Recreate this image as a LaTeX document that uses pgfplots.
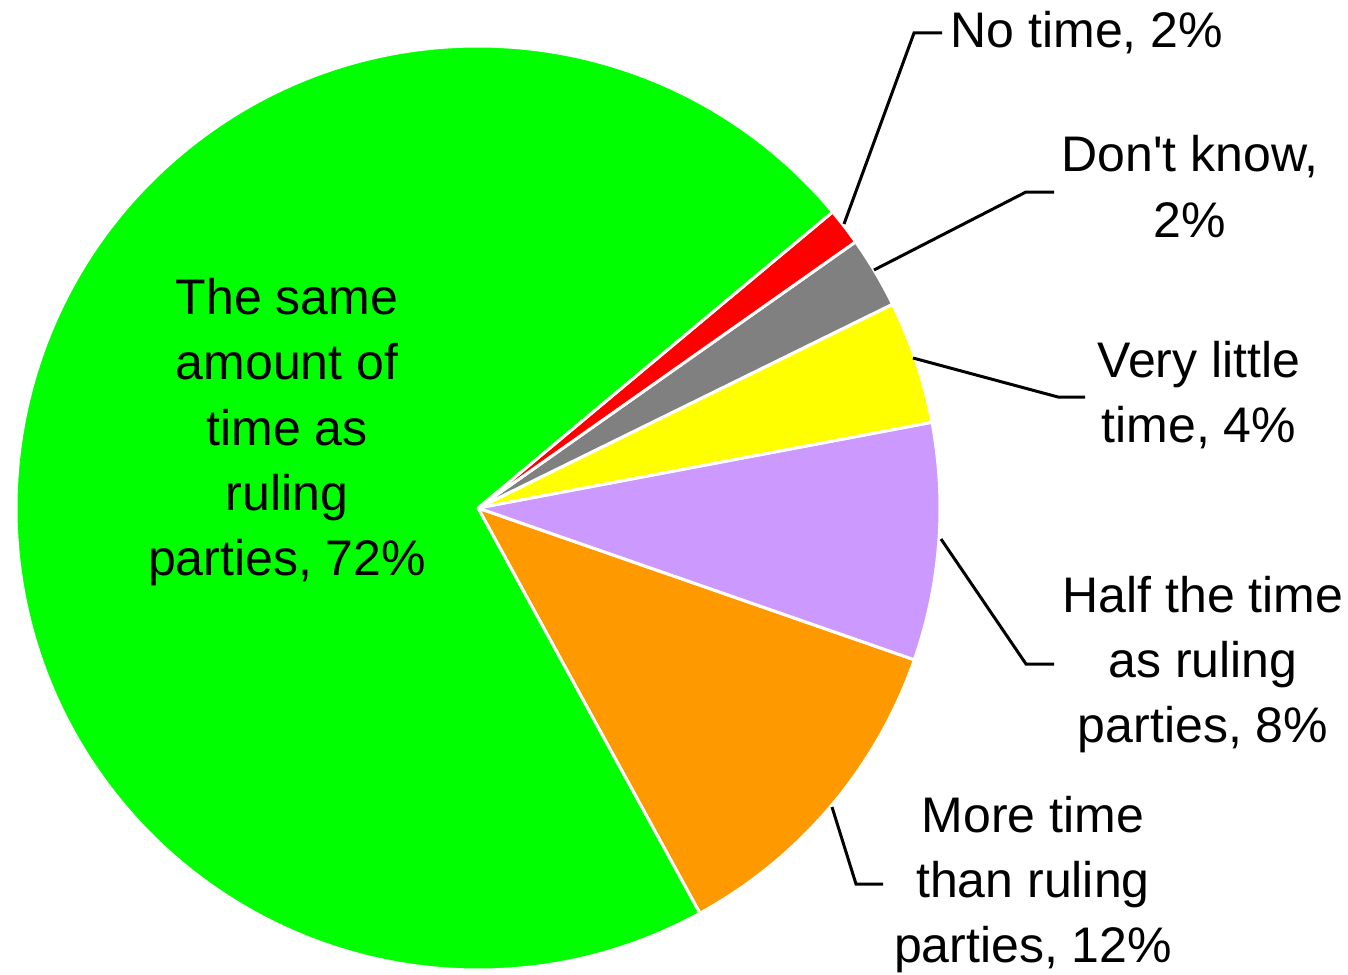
\documentclass[border=0pt]{standalone}
\usepackage{pgfplots}
\pgfplotsset{compat=1.18}
\usepackage{pgfplotstable}
\usepackage{fontspec}
\setmainfont{Liberation Sans}

\definecolor{greenS}{HTML}{00FF00}
\definecolor{redS}{HTML}{FF0000}
\definecolor{grayS}{HTML}{808080}
\definecolor{yellowS}{HTML}{FFFF00}
\definecolor{purpleS}{HTML}{CC99FF}
\definecolor{orangeS}{HTML}{FF9900}

% slices counter-clockwise, starting at -61.3 deg
\pgfplotstableread{
value color
11.7  orangeS
8.3   purpleS
4.3   yellowS
2.5   grayS
1.3   redS
71.9  greenS
}\piedata

\begin{document}
\begin{tikzpicture}[
    lbl/.style={font=\fontsize{15pt}{19.8pt}\selectfont, inner sep=0pt, anchor=base},
    lead/.style={black, line width=0.9pt},
]
\begin{axis}[
    width=404.4pt, height=292.2pt,
    scale only axis,
    xmin=0, xmax=1348, ymin=0, ymax=974,
    y dir=reverse,
    hide axis,
    clip=false,
]
\coordinate (bbA) at (rel axis cs:0,0);
\coordinate (bbB) at (rel axis cs:1,1);

\pgfplotsextra{%
    \pgfplotstablegetrowsof{\piedata}%
    \pgfmathtruncatemacro\nmax{\pgfplotsretval-1}%
    \def\angstart{-61.3}%
    \pgfplotsforeachungrouped \i in {0,...,\nmax}{%
        \pgfplotstablegetelem{\i}{value}\of\piedata \let\v\pgfplotsretval
        \pgfplotstablegetelem{\i}{color}\of\piedata \let\c\pgfplotsretval
        \pgfmathsetmacro\angend{\angstart+3.6*\v}%
        \fill[\c, draw=white, line width=0.9pt, line join=round]
            (axis cs:478,508) -- ++(\angstart:138.6pt)
            arc[start angle=\angstart, end angle=\angend, radius=138.6pt] -- cycle;%
        \let\angstart\angend
    }%
}

% leader lines
\draw[lead] (axis cs:844,224) -- (axis cs:914,33) -- (axis cs:942,33);
\draw[lead] (axis cs:874,270) -- (axis cs:1026,192) -- (axis cs:1054,192);
\draw[lead] (axis cs:913,358) -- (axis cs:1058,397) -- (axis cs:1085,397);
\draw[lead] (axis cs:941,539) -- (axis cs:1026,664) -- (axis cs:1054,664);
\draw[lead] (axis cs:832,807) -- (axis cs:856,884) -- (axis cs:883,884);

% labels
\node[lbl, anchor=base west] at (axis cs:950,48) {No time, 2\%};

\node[lbl] at (axis cs:1190,172) {Don\textquotesingle t know,};
\node[lbl] at (axis cs:1190,237) {2\%};

\node[lbl] at (axis cs:1199,377) {Very little};
\node[lbl] at (axis cs:1199,442) {time, 4\%};

\node[lbl] at (axis cs:1203,612) {Half the time};
\node[lbl] at (axis cs:1203,677) {as ruling};
\node[lbl] at (axis cs:1203,742) {parties, 8\%};

\node[lbl] at (axis cs:1033,832) {More time};
\node[lbl] at (axis cs:1033,897) {than ruling};
\node[lbl] at (axis cs:1033,962) {parties, 12\%};

\node[lbl] at (axis cs:287,314) {The same};
\node[lbl] at (axis cs:287,379.5) {amount of};
\node[lbl] at (axis cs:287,445) {time as};
\node[lbl] at (axis cs:287,510) {ruling};
\node[lbl] at (axis cs:287,575) {parties, 72\%};
\end{axis}
\pgfresetboundingbox
\useasboundingbox (bbA) rectangle (bbB);
\end{tikzpicture}
\end{document}
